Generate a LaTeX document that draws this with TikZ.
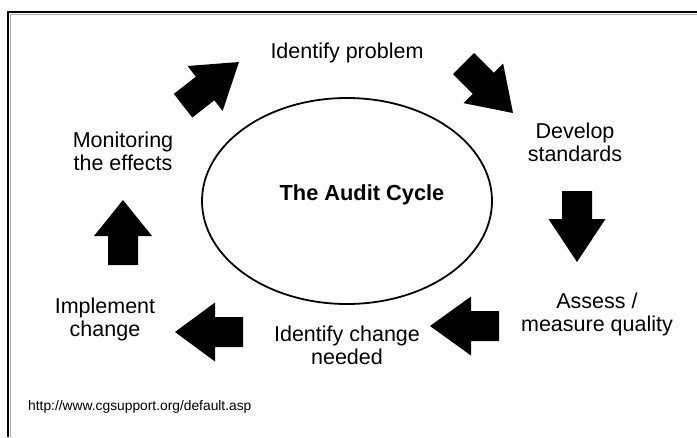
\documentclass[tikz,border=0pt]{standalone}
\usepackage{fontspec}
\setmainfont{Liberation Sans}
\usetikzlibrary{shapes.geometric}
\newcommand{\blockarr}[6]{% tipx tipy angle headlen headw shaftlen
  \begin{scope}[shift={(#1,#2)},rotate=#3]
    \fill (0,0) -- (-#4,#5/2) -- (-#4,15) -- (-#4-#6,15) -- (-#4-#6,-15) -- (-#4,-15) -- (-#4,-#5/2) -- cycle;
  \end{scope}}
\begin{document}
\begin{tikzpicture}[x=1pt,y=-1pt,
  lbl/.style={align=center,inner sep=0pt,anchor=base,font=\fontsize{21.5}{23}\selectfont}]
\useasboundingbox (0,0) rectangle (697,437);
% frame
\draw[line width=2.4pt] (8,437) |- (697,12);
\draw[gray!60,line width=0.8pt] (10.2,437) |- (697,14.2);
% ellipse
\node[draw,line width=1.8pt,ellipse,minimum width=290pt,minimum height=206pt,inner sep=0pt] (cyc) at (347,201) {};
\node[inner sep=0pt,anchor=base,font=\fontsize{21.8}{24}\selectfont\bfseries] (title) at (362,200) {The Audit Cycle};
% labels (anchor = baseline of the last line)
\node[lbl] (idp) at (347,58) {Identify problem};
\node[lbl] (dev) at (575,161) {Develop\\standards};
\node[lbl] (ass) at (597,331) {Assess /\\measure quality};
\node[lbl] (icn) at (347,364) {Identify change\\needed};
\node[lbl] (imp) at (105,336) {Implement\\change};
\node[lbl] (mon) at (123,170) {Monitoring\\the effects};
\node[inner sep=0pt,anchor=base west,font=\fontsize{13.8}{16}\selectfont] (url) at (28,410) {http://www.cgsupport.org/default.asp};
% block arrows: tip, angle, head length, head width, shaft length
\blockarr{239}{62}{38}{43}{57}{28}
\blockarr{513}{113}{-45}{42}{56}{28}
\blockarr{577}{262}{-90}{43}{57}{28}
\blockarr{430}{326}{180}{41}{59}{28}
\blockarr{175}{332}{180}{40}{59}{28}
\blockarr{123}{200}{90}{36}{58}{29}
\end{tikzpicture}
\end{document}
